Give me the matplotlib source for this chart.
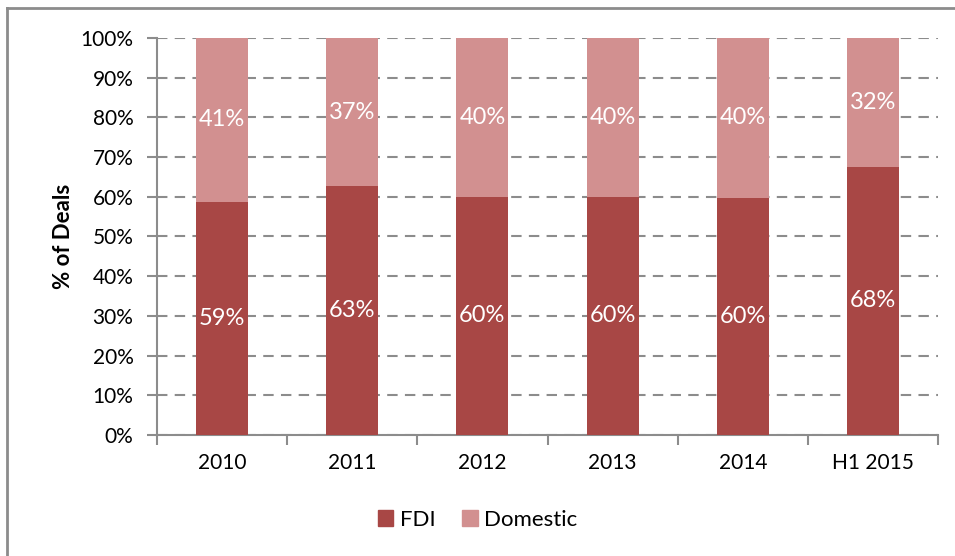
import matplotlib.pyplot as plt
import matplotlib.patches as mpatches
from matplotlib.lines import Line2D
import numpy as np

plt.rcParams['font.family'] = ['Lato', 'DejaVu Sans']

categories = ['2010', '2011', '2012', '2013', '2014', 'H1 2015']
fdi = [58.8, 62.7, 60.0, 60.0, 59.7, 67.6]
domestic = [41.2, 37.3, 40.0, 40.0, 40.3, 32.4]
fdi_labels = ['59%', '63%', '60%', '60%', '60%', '68%']
domestic_labels = ['41%', '37%', '40%', '40%', '40%', '32%']

c_fdi = '#A84745'
c_dom = '#D29090'
c_grey = '#8C8C8C'

fig = plt.figure(figsize=(9.55, 5.56), dpi=100)
ax = fig.add_axes([0.1644, 0.2176, 0.8178, 0.7141])

x = np.arange(len(categories))
w = 0.4
ax.bar(x, fdi, w, color=c_fdi, label='FDI', zorder=3)
ax.bar(x, domestic, w, bottom=fdi, color=c_dom, label='Domestic', zorder=3)

for i in range(len(categories)):
    ax.text(x[i], fdi[i] / 2, fdi_labels[i], ha='center', va='center',
            color='white', fontsize=17, zorder=4)
    ax.text(x[i], fdi[i] + domestic[i] / 2, domestic_labels[i], ha='center',
            va='center', color='white', fontsize=17, zorder=4)

ax.set_xlim(-0.5, len(categories) - 0.5)
ax.set_ylim(0, 100)
ax.set_yticks(np.arange(0, 101, 10))
ax.set_yticklabels([f'{v}%' for v in range(0, 101, 10)], fontsize=15)
ax.set_xticks(x)
ax.set_xticklabels(categories, fontsize=15)
ax.set_xticks(np.arange(-0.5, len(categories), 1), minor=True)
ax.tick_params(axis='x', which='major', length=0, pad=13)
ax.tick_params(axis='x', which='minor', length=7, color=c_grey, width=1.5)
ax.tick_params(axis='y', length=7, color=c_grey, width=1.5, pad=10)

ax.yaxis.grid(True, linestyle=(0, (5, 3.5)), color=c_grey, linewidth=1.5, zorder=0)
ax.set_axisbelow(True)
for s in ['top', 'right']:
    ax.spines[s].set_visible(False)
for s in ['left', 'bottom']:
    ax.spines[s].set_color(c_grey)
    ax.spines[s].set_linewidth(1.5)

ax.set_ylabel('% of Deals', fontsize=16, fontweight='bold')
ax.yaxis.set_label_coords(-0.106, 0.5)

handles = [mpatches.Patch(color=c_fdi, label='FDI'),
           mpatches.Patch(color=c_dom, label='Domestic')]
fig.legend(handles=handles, loc='center', bbox_to_anchor=(0.5, 0.065), ncol=2,
           frameon=False, fontsize=16, handlelength=0.7, handleheight=0.7,
           handletextpad=0.3, columnspacing=1.2)

# outer chart frame (top and left edges visible)
fig.add_artist(Line2D([0.007, 1.0], [0.986, 0.986], transform=fig.transFigure,
                      color=c_grey, linewidth=2))
fig.add_artist(Line2D([0.007, 0.007], [0.0, 0.986], transform=fig.transFigure,
                      color=c_grey, linewidth=2))

fig.savefig('out.png', dpi=100)
